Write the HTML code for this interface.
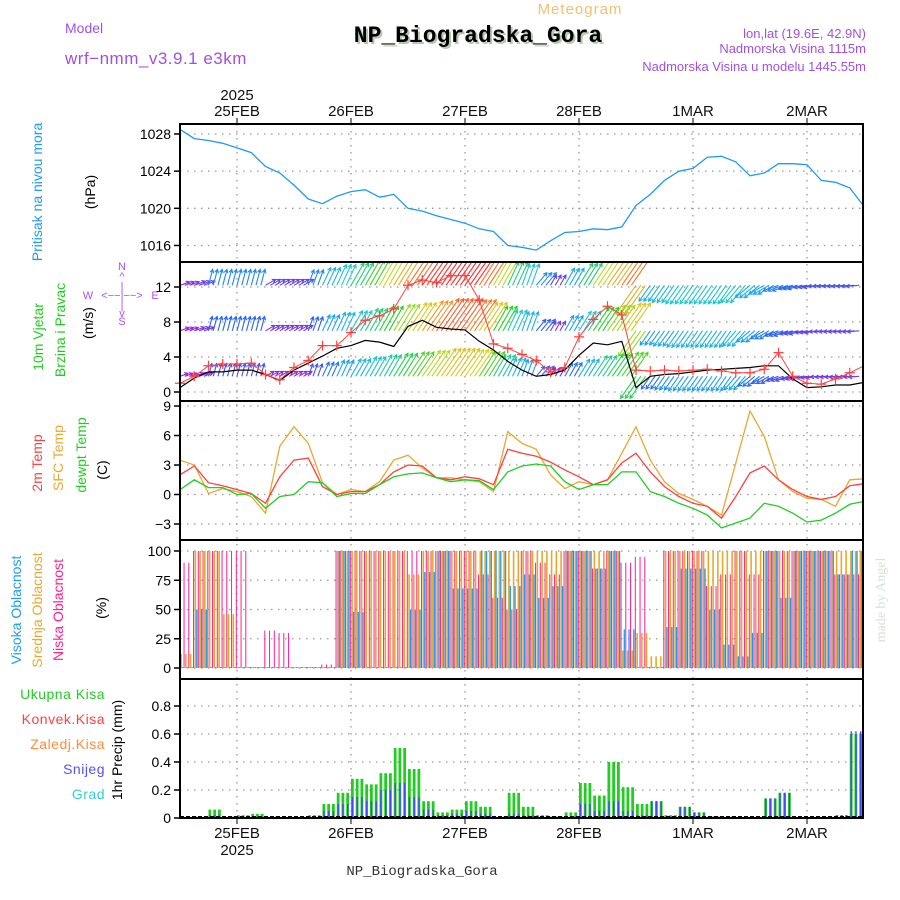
<!DOCTYPE html>
<html><head><meta charset="utf-8"><style>
html,body{margin:0;padding:0;background:#fff;}
svg{display:block;font-family:"Liberation Sans",sans-serif;}
</style></head><body>
<svg id="chart" width="900" height="900" viewBox="0 0 900 900" xmlns="http://www.w3.org/2000/svg">
<defs><clipPath id="windClip"><rect x="180" y="262" width="683" height="139"/></clipPath>
<clipPath id="plotClip"><rect x="180" y="124" width="683" height="694"/></clipPath></defs>
<g>
<text x="580" y="14" font-size="15" fill="#f0c070" text-anchor="middle" letter-spacing="1">Meteogram</text>
<text x="65" y="33" font-size="14" fill="#a050e0">Model</text>
<text x="65" y="64" font-size="17" fill="#a050e0" letter-spacing="0.5">wrf−nmm_v3.9.1 e3km</text>
<text x="480" y="44" font-size="23" font-weight="bold" font-family="Liberation Mono, monospace" fill="#b8c8b0" text-anchor="middle">NP_Biogradska_Gora</text>
<text x="478" y="42" font-size="23" font-weight="bold" font-family="Liberation Mono, monospace" fill="#000" text-anchor="middle">NP_Biogradska_Gora</text>
<text x="866" y="38" font-size="13" fill="#a050e0" text-anchor="end">lon,lat (19.6E, 42.9N)</text>
<text x="866" y="53" font-size="13" fill="#a050e0" text-anchor="end">Nadmorska Visina 1115m</text>
<text x="866" y="71" font-size="13" fill="#a050e0" text-anchor="end">Nadmorska Visina u modelu 1445.55m</text>
<text x="422" y="875" font-size="14" font-family="Liberation Mono, monospace" fill="#333" text-anchor="middle">NP_Biogradska_Gora</text>
<text x="885" y="600" font-size="14" font-family="Liberation Serif, serif" fill="#d8e0d8" text-anchor="middle" transform="rotate(-90 885 600)">made by Angel</text>
</g>
<g>
<text transform="translate(42 192) rotate(-90)" font-size="14" fill="#1e9bf0" text-anchor="middle">Pritisak na nivou mora</text>
<text transform="translate(95 192) rotate(-90)" font-size="14" fill="#000" text-anchor="middle">(hPa)</text>
<text transform="translate(43 337) rotate(-90)" font-size="14" fill="#22cc22" text-anchor="middle">10m Vjetar</text>
<text transform="translate(65 330) rotate(-90)" font-size="14" fill="#22cc22" text-anchor="middle">Brzina i Pravac</text>
<text transform="translate(93 323) rotate(-90)" font-size="14" fill="#000" text-anchor="middle">(m/s)</text>
<g fill="#b050f0" font-size="11" text-anchor="middle">
<text x="122" y="270">N</text><text x="122" y="280">^</text><text x="122" y="290">|</text>
<text x="88" y="299">W</text><text x="122" y="299">&lt;−−|−−&gt;</text><text x="155" y="299">E</text>
<text x="122" y="309">|</text><text x="122" y="317">v</text><text x="122" y="325">S</text></g>
<text transform="translate(42 463) rotate(-90)" font-size="14" fill="#ff4040" text-anchor="middle">2m Temp</text>
<text transform="translate(63 458) rotate(-90)" font-size="14" fill="#e8a830" text-anchor="middle">SFC Temp</text>
<text transform="translate(86 455) rotate(-90)" font-size="14" fill="#22cc22" text-anchor="middle">dewpt Temp</text>
<text transform="translate(107 470) rotate(-90)" font-size="14" fill="#000" text-anchor="middle">(C)</text>
<text transform="translate(21 610) rotate(-90)" font-size="14" fill="#1e9bf0" text-anchor="middle">Visoka Oblacnost</text>
<text transform="translate(42 610) rotate(-90)" font-size="14" fill="#e8a830" text-anchor="middle">Srednja Oblacnost</text>
<text transform="translate(63 610) rotate(-90)" font-size="14" fill="#ff1f8f" text-anchor="middle">Niska Oblacnost</text>
<text transform="translate(106 608) rotate(-90)" font-size="14" fill="#000" text-anchor="middle">(%)</text>
<g font-size="14" text-anchor="end" letter-spacing="0.5">
<text x="105" y="699" fill="#22cc22">Ukupna  Kisa</text>
<text x="105" y="724" fill="#ff4040">Konvek.Kisa</text>
<text x="105" y="749" fill="#ff8c3a">Zaledj.Kisa</text>
<text x="105" y="774" fill="#5050ff">Snijeg</text>
<text x="105" y="799" fill="#30d0d0">Grad</text></g>
<text transform="translate(122 750) rotate(-90)" font-size="14" fill="#000" text-anchor="middle">1hr Precip (mm)</text>
</g>
<g id="grid"></g>
<g id="marks"></g>
<g id="frame"></g>
</svg>
<script>
// time in hours from 25FEB 00, sampled every 3 hours
const times = [-12,-9,-6,-3,0,3,6,9,12,15,18,21,24,27,30,33,36,39,42,45,48,51,54,57,60,63,66,69,72,75,78,81,84,87,90,93,96,99,102,105,108,111,114,117,120,123,126,129,132];
const dayLabels = ["25FEB","26FEB","27FEB","28FEB","1MAR","2MAR"];
const dayHours = [0,24,48,72,96,120];
const pressure = [1028.5,1027.5,1027.3,1027,1026.5,1026,1024.5,1023.8,1022.5,1021,1020.5,1021.3,1021.8,1022,1021.2,1021.5,1020,1019.7,1019.2,1018.8,1018.4,1017.8,1017.5,1016,1015.8,1015.5,1016.5,1017.4,1017.5,1017.8,1017.7,1018,1020.3,1021.5,1023,1024,1024.3,1025.5,1025.6,1025,1023.5,1023.8,1024.8,1024.8,1024.7,1023,1022.8,1022.2,1020.2];
const pressureTicks = [1016,1020,1024,1028];
const windSpeed = [1.0,1.8,3.0,3.2,3.2,3.3,2.0,1.4,2.8,3.6,5.3,5.3,6.8,8.2,8.7,9.5,12.2,12.8,12.5,13.3,13.3,10.5,5.5,5.0,4.3,3.6,2.3,2.8,6.3,8.3,9.8,8.8,2.5,2.4,2.5,2.4,2.5,2.6,2.4,2.2,2.2,2.6,4.5,1.8,1.0,0.9,1.5,2.2,3.0];
const windBlack = [0.5,1.6,2.3,2.3,2.5,2.5,2.0,1.3,2.5,3.3,4.1,5.0,5.3,5.9,5.7,5.2,7.5,8.2,7.4,7.2,7.1,5.8,4.8,3.5,2.5,1.8,2.0,2.5,4.2,5.6,5.4,5.8,0.5,1.8,2.0,2.1,2.3,2.5,2.6,2.7,2.8,3.0,3.0,1.5,0.5,0.6,0.8,0.8,1.1];
const arrowDir = [70,70,15,15,15,15,60,60,60,20,25,25,30,30,30,32,34,35,35,35,35,33,30,25,20,40,30,30,32,34,35,35,215,215,215,215,215,215,215,220,230,240,250,255,260,265,265,265,265];
const arrowSpeed = [2,2.5,4,4,4,4,2.5,2.5,2.5,4,5,6,7,8,9,10,11,12,13,13,12.5,11,9,7,6,4,2.5,5,7,9,10,11,10,5,5.5,6,6,6,6,6,5,4.5,4,3.5,3,3,3,3,3];
const windTicks = [0,4,8,12];
const temp2m = [2.0,2.9,1.2,0.9,0.5,0.1,-0.9,1.8,3.5,3.7,0.8,0,0.3,0.3,1.0,2.3,3.0,2.9,1.7,1.5,1.8,1.6,1.0,4.6,4.2,3.9,3.3,2.5,1.8,1.0,1.5,3.2,4.2,2.3,0.8,-0.2,-0.9,-1.2,-2.4,-0.2,2.2,2.9,1.5,0.5,-0.2,-0.5,-0.2,0.9,1.1];
const tempSfc = [3.5,3.0,0.1,0.6,0.3,-0.2,-1.9,4.9,6.9,5.2,1.2,0,0.5,0.3,1.3,3.5,4.0,2.7,1.7,1.7,1.5,1.3,0.3,6.4,5.2,4.6,2.0,0.6,1.3,1.0,1.5,4.2,6.9,3.5,1.3,0.1,-0.5,-1.2,-2.1,3.2,8.5,5.9,1.5,0.3,-0.4,-0.5,-1.2,1.5,1.6];
const tempDew = [0.5,1.5,0.7,0.7,0,0.1,-1.4,-0.2,0,1.3,1.2,-0.2,0.1,0.1,1.0,1.8,2.1,2.2,1.7,1.3,1.5,1.4,0.5,2.3,2.9,3.1,2.9,1.3,0.5,1.0,1.0,2.3,2.3,0.3,-0.2,-0.9,-1.4,-2.1,-3.4,-2.9,-2.4,-0.9,-1.2,-1.9,-2.8,-2.6,-1.9,-1.0,-0.7];
const tempTicks = [-3,0,3,6,9];
const cloudLow = [90,100,100,100,100,0,32,30,0,0,3,100,100,100,100,100,100,100,100,100,100,80,60,50,100,90,80,100,100,85,100,90,95,0,100,100,100,70,80,100,80,100,100,100,100,100,80,80,100];
const cloudMid = [12,100,100,46,0,0,0,0,0,0,0,100,100,100,100,100,80,100,100,100,100,100,100,100,100,100,100,100,100,100,100,15,30,10,100,100,100,100,100,100,100,100,100,100,100,100,100,100,70];
const cloudHigh = [0,50,0,0,0,0,0,0,0,0,0,100,48,0,0,0,50,82,100,68,68,100,100,70,80,60,70,100,100,85,100,33,0,0,35,85,85,50,20,10,30,100,60,100,100,100,80,100,85];
const cloudTicks = [0,25,50,75,100];
const precipTotal = [0,0.01,0.06,0.01,0.02,0.03,0.01,0,0,0.02,0.1,0.18,0.28,0.24,0.32,0.5,0.35,0.12,0.04,0.06,0.12,0.08,0.01,0.18,0.08,0.02,0.01,0.04,0.25,0.16,0.4,0.22,0.1,0.12,0.02,0.08,0.04,0.01,0.01,0,0,0.14,0.18,0,0,0,0.02,0.6,0];
const precipSnow = [0,0,0.02,0,0.01,0.01,0,0,0,0.01,0.05,0.1,0.15,0.12,0.2,0.25,0.15,0.06,0.02,0.03,0.05,0.03,0,0.03,0.02,0,0,0.01,0.1,0.05,0.12,0.05,0.02,0.12,0.01,0.08,0.04,0.01,0.01,0,0,0.14,0.18,0,0,0,0.02,0.62,0];
const precipTicks = [0,0.2,0.4,0.6,0.8];

const NS = "http://www.w3.org/2000/svg";
const X = t => 237 + t * 4.75;
const Py = p => 134 + (1028 - p) * 9.29;
const Wy = v => 392 - 8.75 * v;
const Ty = T => 494.5 - 9.83 * T;
const Cy = c => 668 - 1.17 * c;
const Ry = r => 818 - 140 * r;
const L = 180, R = 863;
const gridG = document.getElementById('grid');
const marks = document.getElementById('marks');
const frame = document.getElementById('frame');
function el(tag, attrs, parent) {
  const e = document.createElementNS(NS, tag);
  for (const k in attrs) e.setAttribute(k, attrs[k]);
  parent.appendChild(e);
  return e;
}
function txt(x, y, s, attrs, parent) {
  const e = el('text', Object.assign({x: x, y: y}, attrs), parent);
  e.textContent = s;
  return e;
}
const dot = {stroke: '#999', 'stroke-width': 1.3, 'stroke-dasharray': '1.5 5.5'};
dayHours.forEach((h, i) => {
  const x = X(h);
  const g = el('line', Object.assign({x1: x, x2: x, y1: 124, y2: 818}, dot), gridG);
  
  
  el('line', {x1: x, x2: x, y1: 118, y2: 124, stroke: '#000'}, frame);
  el('line', {x1: x, x2: x, y1: 818, y2: 824, stroke: '#000'}, frame);
  const t1 = txt(x, 116, dayLabels[i], {'font-size': 15, 'text-anchor': 'middle', fill: '#111'}, frame);
  
  
  const t2 = txt(x, 838, dayLabels[i], {'font-size': 15, 'text-anchor': 'middle', fill: '#111'}, frame);
  
  
});
const y1 = txt(X(0), 100, '2025', {'font-size': 15, 'text-anchor': 'middle', fill: '#111'}, frame);


const y2 = txt(X(0), 855, '2025', {'font-size': 15, 'text-anchor': 'middle', fill: '#111'}, frame);


function yTicks(ticks, fn, name) {
  ticks.forEach(v => {
    const y = fn(v);
    const g = el('line', Object.assign({x1: L, x2: R, y1: y, y2: y}, dot), gridG);
    
    
    el('line', {x1: L - 6, x2: L, y1: y, y2: y, stroke: '#000', 'stroke-width': 1.5}, frame);
    const t = txt(L - 9, y + 5, String(v).replace('-', '−'), {'font-size': 14, 'text-anchor': 'end', fill: '#000'}, frame);
    
    
  });
}
yTicks(pressureTicks, Py, 'pressure');
yTicks(windTicks, Wy, 'wind');
yTicks(tempTicks, Ty, 'temp');
yTicks(cloudTicks, Cy, 'cloud');
yTicks(precipTicks, Ry, 'precip');
el('rect', {x: L, y: 124, width: R - L, height: 694, fill: 'none', stroke: '#000', 'stroke-width': 2}, frame);
[262, 401, 540, 679].forEach(y => el('line', {x1: L, x2: R, y1: y, y2: y, stroke: '#000', 'stroke-width': 2}, frame));

function linePath(vals, fy) {
  return vals.map((v, i) => (i ? 'L' : 'M') + X(times[i]).toFixed(1) + ' ' + fy(v).toFixed(1)).join(' ');
}
const pl = el('path', {d: linePath(pressure, Py), fill: 'none', stroke: '#1e9bf0', 'stroke-width': 1.3}, marks);



function speedColor(s) {
  const stops = [[2,[150,40,220]],[4,[40,100,240]],[5,[30,160,240]],[7,[30,200,200]],[9,[40,210,40]],[10.5,[210,220,30]],[12,[240,150,40]],[14,[255,40,40]]];
  if (s <= stops[0][0]) return 'rgb(' + stops[0][1] + ')';
  for (let i = 1; i < stops.length; i++) {
    if (s <= stops[i][0]) {
      const a = stops[i-1], b = stops[i], f = (s - a[0]) / (b[0] - a[0]);
      return 'rgb(' + a[1].map((c, j) => Math.round(c + (b[1][j] - c) * f)).join(',') + ')';
    }
  }
  return 'rgb(255,40,40)';
}
const windG = el('g', {'clip-path': 'url(#windClip)'}, marks);


const rows = [{base: 12.2, f: 1.15}, {base: 7.0, f: 1.0}, {base: 1.8, f: 0.85}];
rows.forEach(row => {
  times.forEach((t, i) => {
    const s = arrowSpeed[i] * row.f;
    const len = 2.7 * s + 4;
    const a = arrowDir[i] * Math.PI / 180;
    const dx = Math.sin(a) * len, dy = -Math.cos(a) * len;
    const col = speedColor(s);
    for (let h = 0; h < 3; h++) {
      const x0 = X(t + h), y0 = Wy(row.base);
      if (x0 > R) continue;
      const x1 = x0 + dx, yy1 = y0 + dy;
      const ar = el('path', {d: 'M' + x0.toFixed(1) + ' ' + y0.toFixed(1) + ' L' + x1.toFixed(1) + ' ' + yy1.toFixed(1) +
        ' M' + (x1 - 4 * Math.sin(a - 0.5)).toFixed(1) + ' ' + (yy1 + 4 * Math.cos(a - 0.5)).toFixed(1) + ' L' + x1.toFixed(1) + ' ' + yy1.toFixed(1) +
        ' L' + (x1 - 4 * Math.sin(a + 0.5)).toFixed(1) + ' ' + (yy1 + 4 * Math.cos(a + 0.5)).toFixed(1),
        fill: 'none', stroke: col, 'stroke-width': 1.1}, windG);
      
      
    }
  });
});
const bl = el('path', {d: linePath(windBlack, Wy), fill: 'none', stroke: '#000', 'stroke-width': 1.2}, marks);


const rl = el('path', {d: linePath(windSpeed, Wy), fill: 'none', stroke: '#ff4040', 'stroke-width': 1}, marks);


times.forEach((t, i) => {
  const x = X(t), y = Wy(windSpeed[i]);
  if (x > R) return;
  const c = el('path', {d: 'M' + (x - 5) + ' ' + y + ' H' + (x + 5) + ' M' + x + ' ' + (y - 5) + ' V' + (y + 5), stroke: '#ff4040', 'stroke-width': 1.2}, marks);
  
  
});

const tempSeries = [[tempSfc, '#e8a830', 'sfc-temp-line'], [temp2m, '#ff4040', 'temp2m-line'], [tempDew, '#22cc22', 'dewpt-line']];
tempSeries.forEach(s => {
  const p = el('path', {d: linePath(s[0], Ty), fill: 'none', stroke: s[1], 'stroke-width': 1.3}, marks);
  
  
});

const cloudG = el('g', {'clip-path': 'url(#plotClip)'}, marks);


times.forEach((t, i) => {
  for (let h = 0; h < 3; h++) {
    const x = X(t + h);
    if (x > R - 1) continue;
    [[cloudMid[i], '#e8a830', 0.3, 1.6, 'mid-cloud-bar'], [cloudHigh[i], '#1e9bf0', 1.9, 1.3, 'high-cloud-bar'], [cloudLow[i], '#ff1f8f', -1.2, 1.0, 'low-cloud-bar']].forEach(c => {
      const v = Math.max(c[0], 0.8);
      const b = el('rect', {x: x + c[2], y: Cy(v), width: c[3], height: Cy(0) - Cy(v), fill: c[1]}, cloudG);
      
      
    });
  }
});

const prG = el('g', {'clip-path': 'url(#plotClip)'}, marks);


times.forEach((t, i) => {
  if (precipTotal[i] <= 0) return;
  for (let h = 0; h < 3; h++) {
    const x = X(t + h);
    if (x > R - 1) continue;
    const g = el('rect', {x: x, y: Ry(precipTotal[i]), width: 2.8, height: Ry(0) - Ry(precipTotal[i]), fill: '#22cc22'}, prG);
    
    
    if (precipSnow[i] > 0) {
      const s = el('rect', {x: x + 0.8, y: Ry(precipSnow[i]), width: 1.3, height: Ry(0) - Ry(precipSnow[i]), fill: '#4444ff'}, prG);
      
      
    }
  }
});
el('line', {x1: L, x2: R, y1: 817, y2: 817, stroke: '#000', 'stroke-width': 2, 'stroke-dasharray': '4 2'}, marks);
</script>
</body></html>
